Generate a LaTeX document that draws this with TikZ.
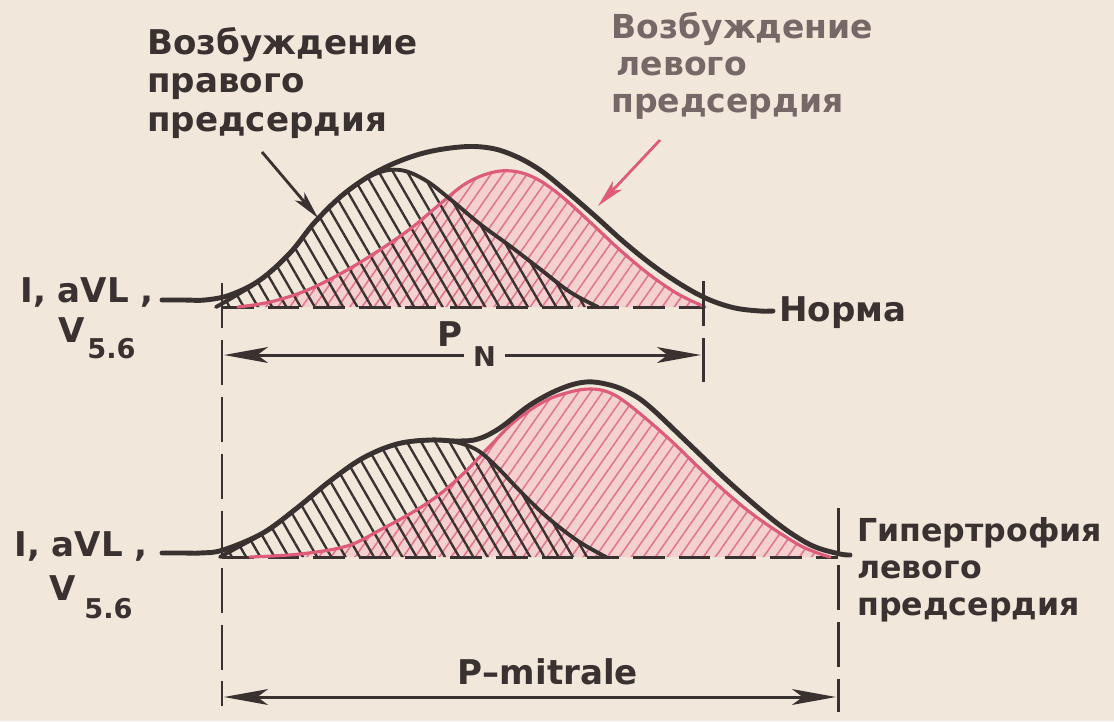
\documentclass[tikz,border=0pt]{standalone}
\usepackage{fontspec}
\setmainfont{DejaVu Sans}
\usetikzlibrary{arrows.meta,patterns.meta}
\definecolor{paper}{RGB}{241,231,219}
\definecolor{ink}{RGB}{58,50,48}
\definecolor{pinkline}{RGB}{222,92,122}
\definecolor{pinkfill}{RGB}{245,208,208}
\definecolor{pinkhatch}{RGB}{226,118,138}
\definecolor{graytext}{RGB}{118,104,102}
\newcommand{\TopEnv}{plot[smooth,tension=0.6] coordinates {(162,300) (185,300) (205,300) (230,295) (260,280) (290,253) (315,222) (345,193) (380,170) (420,154) (460,147) (490,148) (515,156) (540,170) (565,190) (595,216) (625,243) (655,267) (685,287) (710,300) (735,308) (760,311) (773,311)}}
\newcommand{\TopRA}{plot[smooth,tension=0.6] coordinates {(216,307) (235,296) (260,280) (290,253) (315,222) (345,193) (375,174) (400,170) (425,180) (450,199) (480,224) (510,246) (540,269) (570,292) (598,307)}}
\newcommand{\TopLA}{plot[smooth,tension=0.6] coordinates {(238,307) (270,302) (305,291) (340,274) (375,253) (410,229) (440,204) (465,184) (490,173) (512,171) (535,178) (560,195) (590,222) (620,250) (650,275) (678,294) (705,307)}}
\newcommand{\BotEnv}{plot[smooth,tension=0.6] coordinates {(162,553) (185,553) (200,553) (223,550) (263,533) (297,508) (330,481) (363,458) (397,444) (430,440) (458,441) (478,439) (500,428) (530,405) (560,389) (586,382) (610,385) (630,393) (650,407) (688,443) (730,483) (773,520) (800,539) (818,548) (840,554) (850,555)}}
\newcommand{\BotRA}{plot[smooth,tension=0.6] coordinates {(220,557) (240,546) (263,533) (297,508) (330,481) (363,458) (397,444) (430,440) (455,442) (477,450) (497,467) (520,491) (547,517) (578,541) (606,557)}}
\newcommand{\BotLA}{plot[smooth,tension=0.6] coordinates {(250,557) (300,554) (347,546) (380,530) (413,512) (440,494) (465,472) (490,446) (515,421) (545,401) (570,392) (590,389) (608,392) (628,404) (667,437) (709,477) (751,513) (794,542) (815,552) (830,557)}}
\begin{document}
\begin{tikzpicture}[x=0.02cm,y=-0.02cm,
  >={Stealth[length=25pt,width=9pt,inset=6pt]},
  envelope/.style={draw=ink, line width=2.8pt, line join=round, line cap=round},
  racurve/.style={draw=ink, line width=2.2pt, line cap=round},
  lacurve/.style={draw=pinkline, line width=1.8pt, line cap=round},
  rahatch/.style={pattern={Lines[angle=-60,distance=7pt,line width=1.35pt]}, pattern color=ink},
  lahatch/.style={pattern={Lines[angle=55,distance=5.6pt,line width=0.9pt]}, pattern color=pinkhatch},
  basedash/.style={draw=ink, line width=1.7pt, dash pattern=on 18pt off 8pt},
  vdash/.style={draw=ink, line width=1.7pt, dash pattern=on 25.6pt off 6.8pt},
  dimarrow/.style={draw=ink, line width=1.7pt},
  pointer/.style={line width=1.6pt, -{Stealth[length=16pt,width=7pt,inset=4pt]}},
  lbl/.style={font=\bfseries\fontsize{19.4}{21.9}\selectfont, text=ink, inner sep=0pt},
  sublbl/.style={font=\bfseries\fontsize{15.5}{18}\selectfont, text=ink, inner sep=0pt},
]
\useasboundingbox (0,0) rectangle (1114,721);
\fill[paper] (0,0) rectangle (1114,721);

% left atrium areas (pink)
\path[fill=pinkfill, postaction={lahatch}] \TopLA -- cycle;
\path[fill=pinkfill, postaction={lahatch}] \BotLA -- cycle;
% right atrium areas (black hatch)
\path[rahatch] \TopRA -- cycle;
\path[rahatch] \BotRA -- cycle;

% dashed baselines
\coordinate (tb1) at (222,307); \coordinate (tb2) at (703,307);
\coordinate (bb1) at (222,557); \coordinate (bb2) at (838,557);
\draw[basedash] (tb1) -- (tb2);
\draw[basedash] (bb1) -- (bb2);

% curves
\draw[lacurve] \TopLA;
\draw[lacurve] \BotLA;
\draw[racurve] \TopRA;
\draw[racurve] \BotRA;
\draw[envelope] \TopEnv;
\draw[envelope] \BotEnv;

% vertical dashed limits
\coordinate (vl1) at (222,283); \coordinate (vl2) at (222,706);
\coordinate (vr1) at (703,281); \coordinate (vr2) at (703,382);
\coordinate (vb1) at (838,508); \coordinate (vb2) at (838,712);
\draw[vdash] (vl1) -- (vl2);
\draw[vdash] (vr1) -- (vr2);
\draw[vdash] (vb1) -- (vb2);

% P_N
\node[lbl, anchor=base west] (P) at (437,346) {P};
\node[sublbl, anchor=base west, inner xsep=5pt] (N) at (464,366) {N};
\coordinate (pnL) at (224,355); \coordinate (pnR) at (701,355);
\draw[dimarrow, ->] (N.west |- pnL) -- (pnL);
\draw[dimarrow, ->] (N.east |- pnR) -- (pnR);

% P-mitrale
\node[lbl, anchor=base] (pm) at (548,684) {P–mitrale};
\coordinate (pmL) at (224,697); \coordinate (pmR) at (836,697);
\draw[dimarrow, <->] (pmL) -- (pmR);

% labels
\node[lbl, anchor=north west, align=left] (raLabel) at (147,27) {Возбуждение\\правого\\предсердия};
\node[lbl, anchor=north west, align=left, text=graytext, font=\bfseries\fontsize{18.8}{21}\selectfont] (laLabel) at (611,12) {Возбуждение\\\hspace{3pt}левого\\предсердия};
\node[lbl, anchor=base west] (norm) at (779,321) {Норма};
\node[lbl, anchor=north west, align=left, font=\bfseries\fontsize{18}{21}\selectfont] (hyp) at (857,517) {Гипертрофия\\левого\\предсердия};

\node[lbl, anchor=base west] (lead1) at (20,302) {I, aVL ,};
\node[lbl, anchor=base west] (v1) at (58,342) {V};
\node[sublbl, anchor=base west] (v1s) at (87,358) {5.6};
\node[lbl, anchor=base west] (lead2) at (14,556) {I, aVL ,};
\node[lbl, anchor=base west] (v2) at (49,600) {V};
\node[sublbl, anchor=base west] (v2s) at (84,618) {5.6};

% pointer arrows
\coordinate (raTail) at (262,152); \coordinate (raTip) at (318,218);
\coordinate (laTail) at (660,140); \coordinate (laTip) at (598,206);
\draw[pointer, ink] (raTail) -- (raTip);
\draw[pointer, pinkline] (laTail) -- (laTip);
\end{tikzpicture}
\end{document}
